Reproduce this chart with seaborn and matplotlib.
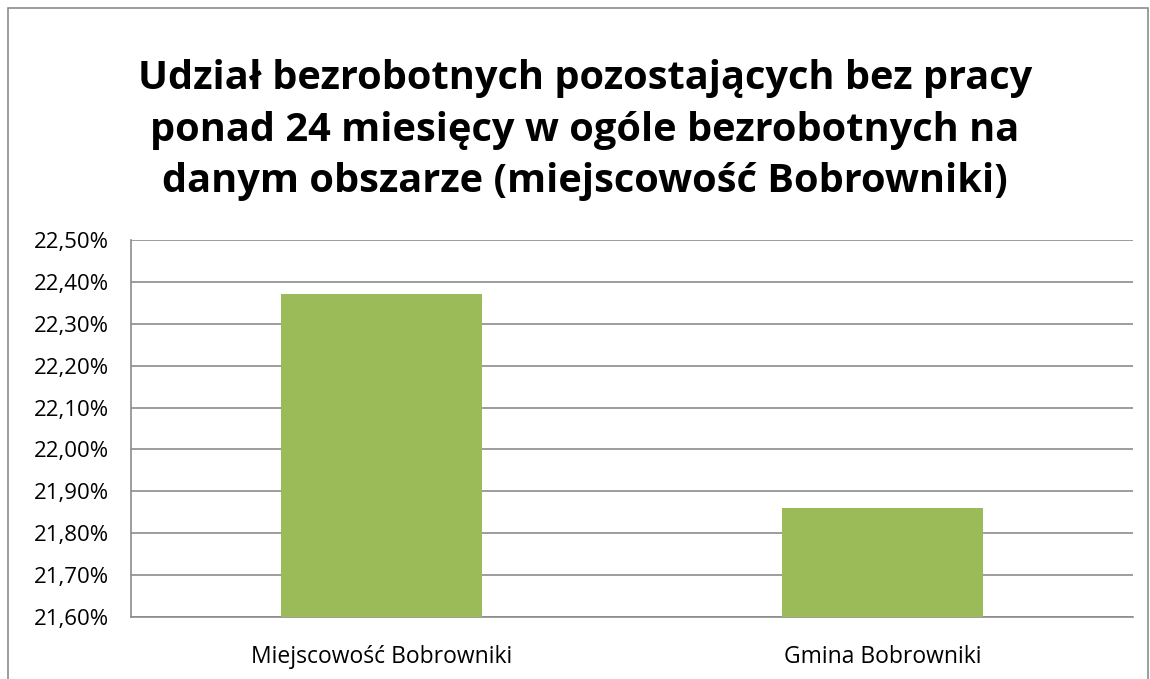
import matplotlib
matplotlib.use("Agg")
import matplotlib.pyplot as plt
import matplotlib.ticker as mticker
import seaborn as sns
import pandas as pd

# data
categories = ["Miejscowość Bobrowniki", "Gmina Bobrowniki"]
values = [22.37, 21.86]
title = "Udział bezrobotnych pozostających bez pracy\nponad 24 miesięcy w ogóle bezrobotnych na\ndanym obszarze (miejscowość Bobrowniki)"

df = pd.DataFrame({"kategoria": categories, "udzial": values})

sns.set_style("white")
plt.rcParams["font.family"] = ["Open Sans", "DejaVu Sans"]
plt.rcParams["text.color"] = "black"
plt.rcParams["xtick.color"] = "black"
plt.rcParams["ytick.color"] = "black"

fig = plt.figure(figsize=(11.5, 6.79), dpi=100)
ax = fig.add_axes([131 / 1150, 1 - 617 / 679, (1133 - 131) / 1150, (617 - 240) / 679])

sns.barplot(data=df, x="kategoria", y="udzial", color="#9BBB59", width=0.4,
            saturation=1, linewidth=0, ax=ax, zorder=3)

ax.set_ylim(21.6, 22.5)
ax.yaxis.set_major_locator(mticker.MultipleLocator(0.1))
ax.yaxis.set_major_formatter(mticker.FuncFormatter(lambda v, p: f"{v:.2f}%".replace(".", ",")))
ax.grid(axis="y", color="#8C8C8C", linewidth=1.2, zorder=0)
ax.set_xlabel("")
ax.set_ylabel("")
for s in ["top", "right"]:
    ax.spines[s].set_visible(False)
for s in ["left", "bottom"]:
    ax.spines[s].set_color("#8C8C8C")
    ax.spines[s].set_linewidth(1.2)
ax.set_xticks([-0.5, 0.5, 1.5], minor=True)
ax.tick_params(axis="x", which="minor", length=7, color="#8C8C8C", width=1.2, direction="out")
ax.tick_params(axis="x", which="major", length=0, labelsize=16.5, labelcolor="black", pad=20)
ax.tick_params(axis="y", length=8, color="#8C8C8C", width=1.2, labelsize=16,
               labelcolor="black", direction="out", pad=8)
ax.set_xlim(-0.5, 1.5)

fig.text(585 / 1150, 1 - 130 / 679, title, ha="center", va="center", fontsize=28.6,
         fontweight="bold", linespacing=1.42, color="black")

# outer chart border
fig.patches.append(plt.Rectangle((8 / 1150, -0.05), 1140 / 1150, 1.05 - 8 / 679,
                                 transform=fig.transFigure, fill=False,
                                 edgecolor="#8C8C8C", linewidth=1.2))

fig.savefig("out.png", dpi=100)
